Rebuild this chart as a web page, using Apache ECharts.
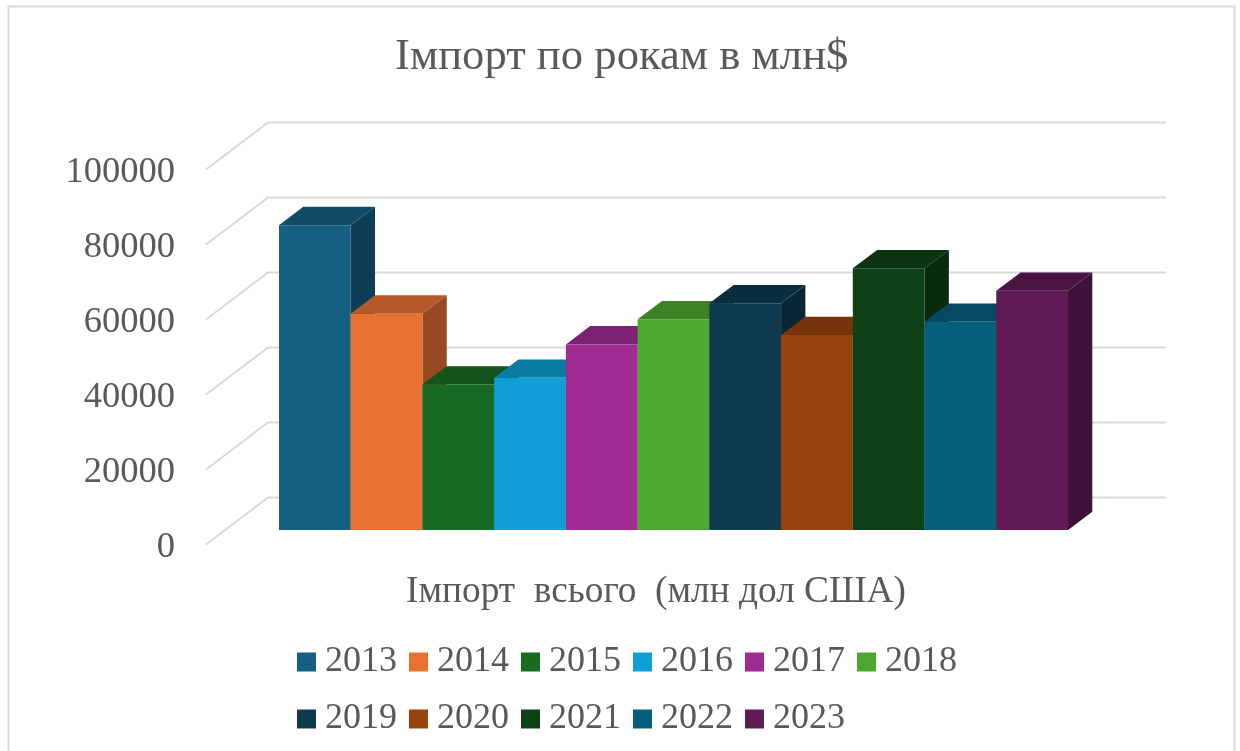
<!DOCTYPE html>
<html>
<head>
<meta charset="utf-8">
<title>Імпорт по рокам</title>
<script src="https://cdn.jsdelivr.net/npm/echarts@6/dist/echarts.min.js"></script>
<style>
  html, body { margin: 0; padding: 0; background: #fff; }
  #chart { width: 1240px; height: 751px; }
</style>
</head>
<body>
<div id="chart"></div>
<script>
const categories = ['Імпорт  всього  (млн дол США)']
const years = ['2013', '2014', '2015', '2016', '2017', '2018', '2019', '2020', '2021', '2022', '2023']
const imports = [81300, 57700, 38800, 40600, 49500, 56200, 60450, 52000, 69800, 55550, 63800]
const colors = ['#156082', '#e97132', '#196b24', '#0f9ed5', '#a02b93', '#4ea72e',
  '#0d3a4f', '#97410f', '#0f4116', '#075f7e', '#5f1b56']
const ticks = [0, 20000, 40000, 60000, 80000, 100000]

// depth of the fake 3d box, in pixels
const depthX = 24.3
const depthY = 18.3
// tick labels sit a little below their slanted line
const labelDrop = 2.5
const textColor = '#595959'
const serif = '"Liberation Serif", serif'

const chart = echarts.init(document.getElementById('chart'))

// darken a hex colour, amount 0..1
const shade = (hex, amount) => {
  const n = parseInt(hex.slice(1), 16)
  const ch = (v) => Math.round(v * (1 - amount))
  return `rgb(${ch(n >> 16)},${ch((n >> 8) & 255)},${ch(n & 255)})`
}

// slanted tick line on the side wall plus the line along the back wall
const renderWallLine = (params, api) => {
  const p = api.coord([0, api.value(0)])
  const left = params.coordSys.x
  const y = p[1] - labelDrop
  return {
    type: 'polyline',
    shape: { points: [[left, y], [left + 62, y - 47], [1166, y - 47]] },
    style: { fill: 'none', stroke: '#d9d9d9', lineWidth: 2 },
    silent: true,
  }
}

const renderBox = (index) => (params, api) => {
  const band = api.size([1, 0])[0]
  const w = band / years.length
  const x0 = api.coord([0, 0])[0] - band / 2 + index * w
  const x1 = x0 + w
  const yTop = api.coord([0, api.value(1)])[1]
  const yBase = api.coord([0, 0])[1]
  const c = colors[index]
  const poly = (points, fill) => ({
    type: 'polygon',
    shape: { points },
    style: { fill },
    silent: true,
  })
  return {
    type: 'group',
    children: [
      poly([[x1, yTop], [x1 + depthX, yTop - depthY], [x1 + depthX, yBase - depthY], [x1, yBase]],
        shade(c, 0.35)),
      poly([[x0, yTop], [x0 + depthX, yTop - depthY], [x1 + depthX, yTop - depthY], [x1, yTop]],
        shade(c, 0.22)),
      poly([[x0, yTop], [x1, yTop], [x1, yBase], [x0, yBase]], c),
    ],
  }
}

const legendRow = (data, top) => ({
  data,
  left: 292,
  top,
  icon: 'rect',
  orient: 'horizontal',
  itemWidth: 19,
  itemHeight: 19,
  itemGap: 12,
  selectedMode: false,
  textStyle: { color: textColor, fontFamily: serif, fontSize: 36, padding: [2, 0, 0, 4] },
})

chart.setOption({
  animation: false,
  backgroundColor: '#fff',
  title: {
    text: 'Імпорт по рокам в млн$',
    left: 390,
    top: 30,
    textStyle: { color: textColor, fontFamily: serif, fontSize: 44.7, fontWeight: 'normal' },
  },
  legend: [legendRow(years.slice(0, 6), 639), legendRow(years.slice(6), 696)],
  grid: [
    // front plane: y labels, slanted lines, category label
    { left: 206, top: 169.5 + labelDrop, width: 900, height: 375 },
    // plane of the bars
    { left: 279, top: 155, width: 789, height: 375 },
  ],
  xAxis: [
    {
      type: 'category',
      gridIndex: 0,
      data: categories,
      axisLine: { show: false },
      axisTick: { show: false },
      axisLabel: { color: textColor, fontFamily: serif, fontSize: 37.3, margin: 26.5 },
    },
    { type: 'category', gridIndex: 1, data: categories, show: false },
  ],
  yAxis: [
    {
      type: 'value',
      gridIndex: 0,
      min: 0,
      max: 100000,
      interval: 20000,
      axisLine: { show: false },
      axisTick: { show: false },
      splitLine: { show: false },
      axisLabel: {
        color: textColor,
        fontFamily: serif,
        fontSize: 36.5,
        margin: 31,
        formatter: (v) => String(v),
      },
    },
    { type: 'value', gridIndex: 1, min: 0, max: 100000, show: false, splitLine: { show: false } },
  ],
  series: [
    {
      type: 'custom',
      name: 'wall',
      xAxisIndex: 0,
      yAxisIndex: 0,
      z: 1,
      clip: false,
      encode: { x: 1, y: 0 },
      data: ticks.map((t) => [t, 0]),
      renderItem: renderWallLine,
    },
    ...years.map((year, i) => ({
      type: 'custom',
      name: year,
      xAxisIndex: 1,
      yAxisIndex: 1,
      z: 2 + i,
      clip: false,
      itemStyle: { color: colors[i] },
      encode: { x: 0, y: 1 },
      data: [[0, imports[i]]],
      renderItem: renderBox(i),
    })),
  ],
  graphic: [
    {
      type: 'rect',
      silent: true,
      z: -1,
      shape: { x: 8.5, y: 6.5, width: 1226, height: 770 },
      style: { fill: 'none', stroke: '#d9d9d9', lineWidth: 2 },
    },
  ],
})
</script>
</body>
</html>
